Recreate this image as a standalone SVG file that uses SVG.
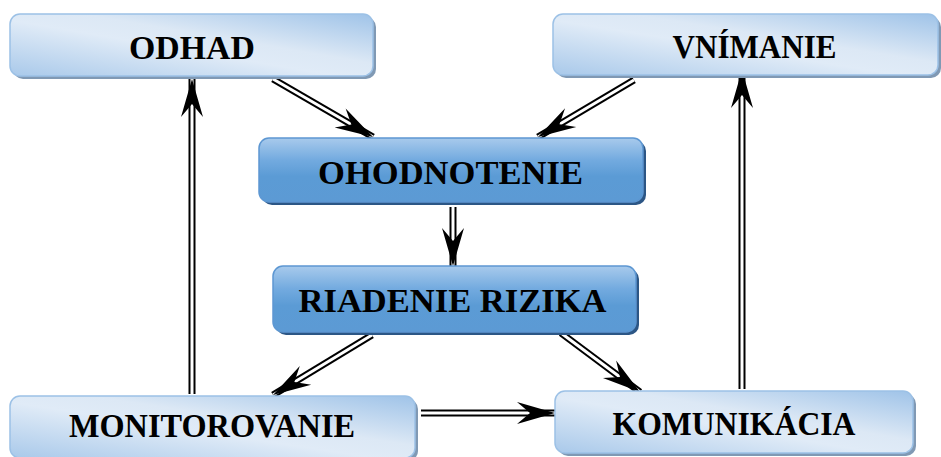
<svg xmlns="http://www.w3.org/2000/svg" width="941" height="457" viewBox="0 0 941 457">
<defs>
<linearGradient id="gLight" x1="0" y1="1" x2="1" y2="0">
<stop offset="0" stop-color="#a9c9ea"/>
<stop offset="0.45" stop-color="#e0ebf7"/>
<stop offset="0.6" stop-color="#dce8f5"/>
<stop offset="1" stop-color="#9fc3e8"/>
</linearGradient>
<linearGradient id="gDark" x1="0" y1="0" x2="0" y2="1">
<stop offset="0" stop-color="#a8caec"/>
<stop offset="0.35" stop-color="#72aadf"/>
<stop offset="0.6" stop-color="#5b9bd5"/>
<stop offset="1" stop-color="#5c9ad4"/>
</linearGradient>
<marker id="head" markerUnits="userSpaceOnUse" markerWidth="80" markerHeight="80" refX="0" refY="0" orient="auto" overflow="visible">
<path d="M0,0 L-38,-11 L-25,0 L-38,11 Z" fill="#000"/>
</marker>
<style>
.light .sh{fill:#8099b4}
.light .bx{fill:url(#gLight);stroke:#9cc1e6;stroke-width:1.5}
.dark .sh{fill:#2c5685}
.dark .bx{fill:url(#gDark);stroke:#5d97d2;stroke-width:1.5}
text{font-family:"Liberation Serif","Times New Roman",serif;font-weight:bold;font-size:33px;fill:#000;text-anchor:middle}
.out{fill:none;stroke:#000;stroke-width:7}
.in{fill:none;stroke:#fff;stroke-width:3;marker-end:url(#head)}
</style>
</defs>

<g id="connectors">
<path class="out" d="M273,79 L373,137"/><path class="in" d="M273,79 L373,137"/>
<path class="out" d="M634,80 L538,137"/><path class="in" d="M634,80 L538,137"/>
<path class="out" d="M453,207 L453,266"/><path class="in" d="M453,207 L453,266"/>
<path class="out" d="M372,335 L273,395"/><path class="in" d="M372,335 L273,395"/>
<path class="out" d="M561,333 L640,392"/><path class="in" d="M561,333 L640,392"/>
<path class="out" d="M421,413 L555,413"/><path class="in" d="M421,413 L555,413"/>
<path class="out" d="M192,394 L192,79"/><path class="in" d="M192,394 L192,79"/>
<path class="out" d="M742,389 L742,70"/><path class="in" d="M742,389 L742,70"/>
</g>

<g id="odhad" class="light">
<rect class="sh" x="13" y="17" width="363" height="62" rx="10"/>
<rect class="bx" x="10" y="14" width="363" height="62" rx="10"/>
<text x="192" y="59" textLength="126" lengthAdjust="spacingAndGlyphs">ODHAD</text>
</g>

<g id="vnimanie" class="light">
<rect class="sh" x="556" y="17" width="385" height="61" rx="10"/>
<rect class="bx" x="553" y="14" width="385" height="61" rx="10"/>
<text x="754.5" y="58" textLength="164" lengthAdjust="spacingAndGlyphs">VNÍMANIE</text>
</g>

<g id="ohodnotenie" class="dark">
<rect class="sh" x="262" y="141" width="384" height="64" rx="10"/>
<rect class="bx" x="259" y="138" width="384" height="64" rx="10"/>
<text x="450.5" y="184" textLength="265" lengthAdjust="spacingAndGlyphs">OHODNOTENIE</text>
</g>

<g id="riadenie" class="dark">
<rect class="sh" x="276" y="269" width="363" height="66" rx="10"/>
<rect class="bx" x="273" y="266" width="363" height="66" rx="10"/>
<text x="452.5" y="312" textLength="308" lengthAdjust="spacingAndGlyphs">RIADENIE RIZIKA</text>
</g>

<g id="monitorovanie" class="light">
<rect class="sh" x="13" y="399" width="405" height="62" rx="10"/>
<rect class="bx" x="10" y="396" width="405" height="62" rx="10"/>
<text x="212" y="437" textLength="286" lengthAdjust="spacingAndGlyphs">MONITOROVANIE</text>
</g>

<g id="komunikacia" class="light">
<rect class="sh" x="558" y="394" width="358" height="62" rx="10"/>
<rect class="bx" x="555" y="391" width="358" height="62" rx="10"/>
<text x="734" y="435" textLength="243" lengthAdjust="spacingAndGlyphs">KOMUNIKÁCIA</text>
</g>
</svg>
